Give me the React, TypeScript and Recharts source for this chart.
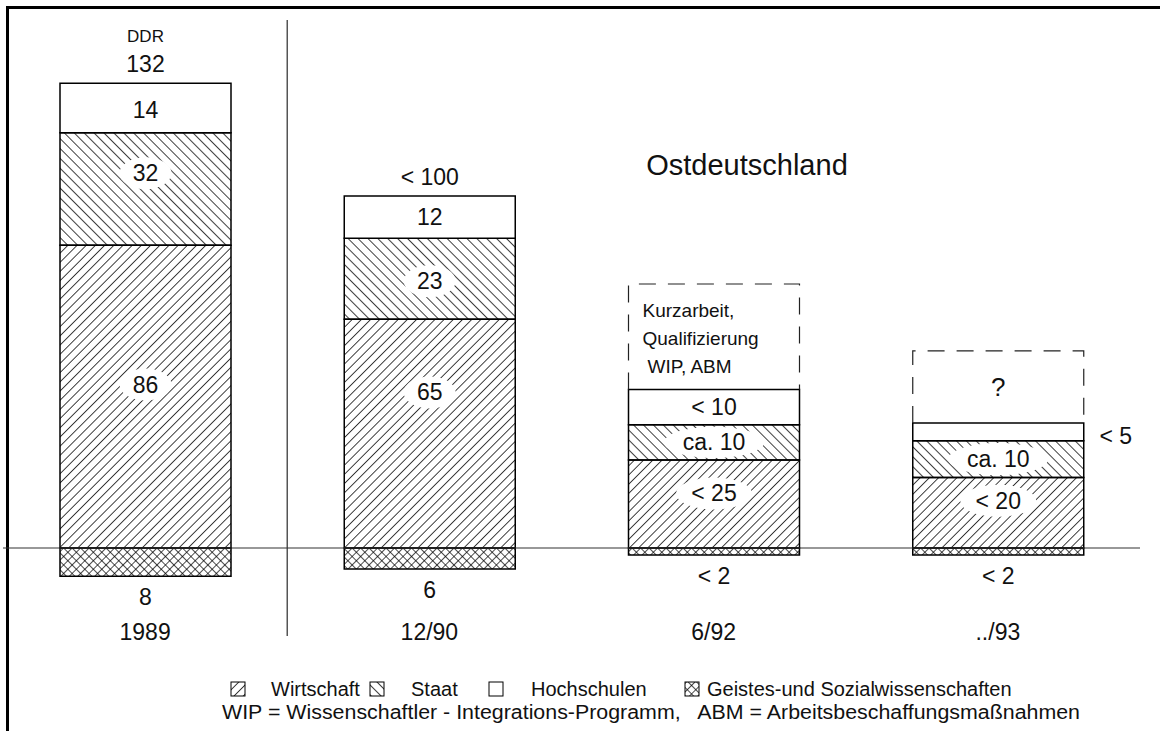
import React from "react";
import {
  BarChart,
  Bar,
  XAxis,
  YAxis,
  LabelList,
  ReferenceLine,
  Legend,
} from "recharts";

const FONT = "'Liberation Sans', Arial, sans-serif";

// categories and values (thousands of researchers)
const categories = ["1989", "12/90", "6/92", "../93"];
const wirtschaft = [86, 65, 25, 20];
const staat = [32, 23, 10, 10.5];
const hochschulen = [14, 12, 10, 5];
const geistes = [-8, -6, -2, -2];
const offen = [0, 0, 30, 20.5];

// printed labels
const wirtschaftLabels = ["86", "65", "< 25", "< 20"];
const staatLabels = ["32", "23", "ca. 10", "ca. 10"];
const hochLabels = ["14", "12", "< 10", ""];
const hochSideLabels = ["", "", "", "< 5"];
const totalLabels = ["132", "< 100", "", ""];
const headLabels = ["DDR", "", "", ""];
const geistesLabels = ["8", "6", "< 2", "< 2"];
const offenLabels = [[], [], ["Kurzarbeit,", "Qualifizierung", "WIP, ABM"], ["?"]];

// where inside a segment the label sits (share of its height, from the top)
const wirtLabelPos = [0.46, 0.32, 0.38, 0.33];
const staatLabelPos = [0.36, 0.53, 0.5, 0.5];
const hochLabelPos = [0.55, 0.5, 0.5, 0.5];

const seriesNames = ["Wirtschaft", "Staat", "Hochschulen", "Geistes-und Sozialwissenschaften"];
const footnote =
  "WIP = Wissenschaftler - Integrations-Programm,   ABM = Arbeitsbeschaffungsmaßnahmen";

const data = categories.map((name, i) => ({
  name,
  wirtschaft: wirtschaft[i],
  staat: staat[i],
  hochschulen: hochschulen[i],
  offen: offen[i],
  geistes: geistes[i],
  wLabel: wirtschaftLabels[i],
  sLabel: staatLabels[i],
  hLabel: hochLabels[i],
  hSide: hochSideLabels[i],
  total: totalLabels[i],
  gLabel: geistesLabels[i],
  oIndex: i,
}));

const box = (p: any) => {
  const top = Math.min(p.y, p.y + p.height);
  const h = Math.abs(p.height);
  return { top, h, bottom: top + h, cx: p.x + p.width / 2 };
};

// label on a white ellipse inside a segment
const ellipseLabel = (pos: number[]) => (props: any) => {
  const { value, index } = props;
  if (!value) return null;
  const { top, h, cx } = box(props);
  const cy = top + h * (pos[index] ?? 0.5);
  const tw = String(value).length * 12;
  const ry = Math.min(16, h / 2 - 2);
  return (
    <g>
      <ellipse cx={cx} cy={cy} rx={tw / 2 + 14} ry={ry} fill="#fff" />
      <text x={cx} y={cy} textAnchor="middle" dominantBaseline="central" fontSize={23} fontFamily={FONT} fill="#111">
        {value}
      </text>
    </g>
  );
};

const TotalLabel = (props: any) => {
  const { value, index } = props;
  if (!value) return null;
  const { top, cx } = box(props);
  const head = headLabels[index];
  return (
    <g fontFamily={FONT} fill="#111" textAnchor="middle">
      <text x={cx} y={top - 19} dominantBaseline="central" fontSize={23}>
        {value}
      </text>
      {head ? (
        <text x={cx} y={top - 47} dominantBaseline="central" fontSize={17}>
          {head}
        </text>
      ) : null}
    </g>
  );
};

const SideLabel = (props: any) => {
  const { value } = props;
  if (!value) return null;
  const { top, h } = box(props);
  return (
    <text x={props.x + props.width + 32} y={top + h / 2 + 4} textAnchor="middle" dominantBaseline="central" fontSize={23} fontFamily={FONT} fill="#111">
      {value}
    </text>
  );
};

const BelowLabel = (props: any) => {
  const { value } = props;
  if (!value) return null;
  const { bottom, cx } = box(props);
  return (
    <text x={cx} y={bottom + 21} textAnchor="middle" dominantBaseline="central" fontSize={23} fontFamily={FONT} fill="#111">
      {value}
    </text>
  );
};

const OffenText = (props: any) => {
  const lines: string[] = offenLabels[props.value] || [];
  if (!lines.length) return null;
  const { top, h, cx } = box(props);
  if (lines.length === 1) {
    return (
      <text x={cx} y={top + h / 2} textAnchor="middle" dominantBaseline="central" fontSize={26} fontFamily={FONT} fill="#111">
        {lines[0]}
      </text>
    );
  }
  return (
    <g fontFamily={FONT} fill="#111" fontSize={19}>
      {lines.map((l, i) => (
        <text key={i} x={props.x + 14 + (i === 2 ? 5 : 0)} y={top + 26 + i * 28} dominantBaseline="central">
          {l}
        </text>
      ))}
    </g>
  );
};

// dashed open box, no bottom edge
const DashedBox = (props: any) => {
  const { x, width } = props;
  const { top, h } = box(props);
  if (!h) return null;
  return (
    <path
      d={`M${x},${top + h} L${x},${top} L${x + width},${top} L${x + width},${top + h}`}
      fill="none"
      stroke="#222"
      strokeWidth={1.2}
      strokeDasharray="17 12"
    />
  );
};

const CategoryTick = (props: any) => (
  <text x={props.x} y={props.y - 4} textAnchor="middle" dominantBaseline="central" fontSize={23} fontFamily={FONT} fill="#111">
    {props.payload.value}
  </text>
);

const Patterns = ({ prefix }: { prefix: string }) => (
  <defs>
    <pattern id={`${prefix}wirt`} width={6.5} height={6.5} patternUnits="userSpaceOnUse" patternTransform="rotate(45)">
      <line x1={0} y1={0} x2={0} y2={6.5} stroke="#000" strokeWidth={1.5} />
    </pattern>
    <pattern id={`${prefix}staat`} width={7} height={7} patternUnits="userSpaceOnUse" patternTransform="rotate(-45)">
      <line x1={0} y1={0} x2={0} y2={7} stroke="#000" strokeWidth={1.5} />
    </pattern>
    <pattern id={`${prefix}geist`} width={6} height={6} patternUnits="userSpaceOnUse" patternTransform="rotate(45)">
      <line x1={0} y1={0} x2={0} y2={6} stroke="#000" strokeWidth={1.4} />
      <line x1={0} y1={0} x2={6} y2={0} stroke="#000" strokeWidth={1.4} />
    </pattern>
  </defs>
);

const legendFills = ["url(#lgwirt)", "url(#lgstaat)", "#fff", "url(#lggeist)"];
const legendIconX = [231, 370, 489, 685];
const legendTextX = [271, 411, 531, 707];

const LegendContent = () => (
  <svg width={1160} height={55} style={{ display: "block" }}>
    <Patterns prefix="lg" />
    {seriesNames.map((n, i) => (
      <g key={n}>
        <rect x={legendIconX[i]} y={10} width={14} height={14} fill={legendFills[i]} stroke="#000" strokeWidth={1} />
        <text x={legendTextX[i]} y={17} dominantBaseline="central" fontSize={20} fontFamily={FONT} fill="#111">
          {n}
        </text>
      </g>
    ))}
    <text
      x={222}
      y={40}
      dominantBaseline="central"
      fontSize={20}
      fontFamily={FONT}
      fill="#111"
      textLength={858}
      lengthAdjust="spacingAndGlyphs"
      xmlSpace="preserve"
    >
      {footnote}
    </text>
  </svg>
);

export default function App() {
  return (
    <div style={{ position: "absolute", left: 0, top: 0, width: 1160, height: 731, background: "#fff", overflow: "hidden" }}>
      <div
        style={{
          position: "absolute",
          left: 6,
          top: 6,
          width: 1200,
          height: 800,
          borderTop: "3px solid #000",
          borderLeft: "3px solid #000",
        }}
      />
      <div
        style={{
          position: "absolute",
          left: 747,
          top: 165,
          transform: "translate(-50%, -50%)",
          fontFamily: FONT,
          fontSize: 29,
          color: "#111",
          whiteSpace: "nowrap",
        }}
      >
        Ostdeutschland
      </div>
      <BarChart
        width={1160}
        height={731}
        data={data}
        stackOffset="sign"
        barSize={171}
        margin={{ top: 20, right: 20, left: 3, bottom: 65 }}
        style={{ position: "absolute", left: 0, top: 0 }}
      >
        <Patterns prefix="" />
        <XAxis
          dataKey="name"
          axisLine={false}
          tickLine={false}
          tickSize={0}
          tickMargin={0}
          height={30}
          tick={<CategoryTick />}
        />
        <YAxis hide domain={[-25, 150]} />
        <ReferenceLine x="1989" position="end" stroke="#555" strokeWidth={1.5} />
        <ReferenceLine y={0} stroke="#333" strokeWidth={1.2} />
        <Bar dataKey="wirtschaft" stackId="a" fill="url(#wirt)" stroke="#000" strokeWidth={1.5} isAnimationActive={false}>
          <LabelList dataKey="wLabel" content={ellipseLabel(wirtLabelPos)} />
        </Bar>
        <Bar dataKey="staat" stackId="a" fill="url(#staat)" stroke="#000" strokeWidth={1.5} isAnimationActive={false}>
          <LabelList dataKey="sLabel" content={ellipseLabel(staatLabelPos)} />
        </Bar>
        <Bar dataKey="hochschulen" stackId="a" fill="#fff" stroke="#000" strokeWidth={1.5} isAnimationActive={false}>
          <LabelList dataKey="hLabel" content={ellipseLabel(hochLabelPos)} />
          <LabelList dataKey="total" content={<TotalLabel />} />
          <LabelList dataKey="hSide" content={<SideLabel />} />
        </Bar>
        <Bar dataKey="offen" stackId="a" shape={<DashedBox />} isAnimationActive={false}>
          <LabelList dataKey="oIndex" content={<OffenText />} />
        </Bar>
        <Bar dataKey="geistes" stackId="a" fill="url(#geist)" stroke="#000" strokeWidth={1.5} isAnimationActive={false}>
          <LabelList dataKey="gLabel" content={<BelowLabel />} />
        </Bar>
        <Legend
          layout="vertical"
          align="center"
          verticalAlign="middle"
          wrapperStyle={{ left: 0, top: 672, width: 1160, height: 55 }}
          content={<LegendContent />}
        />
      </BarChart>
    </div>
  );
}
